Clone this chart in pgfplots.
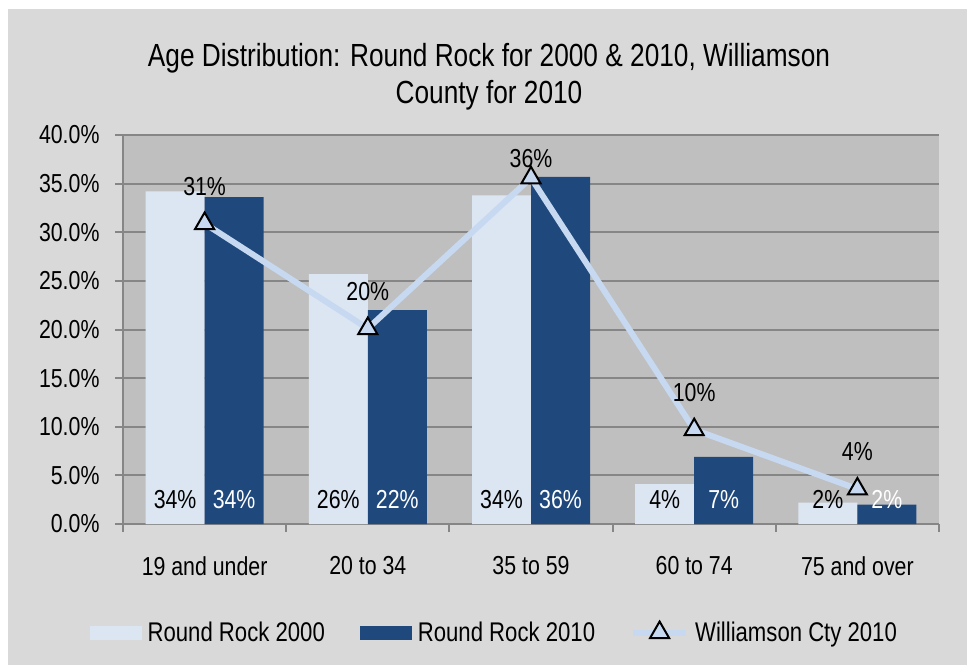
\documentclass[border=0pt]{standalone}
\usepackage{fontspec}
\setmainfont{Liberation Sans}[FakeStretch=0.82]
\usepackage{pgfplots}
\pgfplotsset{compat=1.18}

\definecolor{chartbg}{HTML}{D9D9D9}
\definecolor{plotbg}{HTML}{BFBFBF}
\definecolor{gridc}{HTML}{868686}
\definecolor{rr2000}{HTML}{DCE6F2}
\definecolor{rr2010}{HTML}{1F497D}
\definecolor{wcty}{HTML}{C6D9F1}

\pgfplotsset{
  lightbox/.style={legend image code/.code={\fill[rr2000] (0pt,-7pt) rectangle (52pt,7pt);}},
  darkbox/.style={legend image code/.code={\fill[rr2010] (0pt,-7pt) rectangle (52pt,7pt);}},
  wline/.style={legend image code/.code={
    \draw[wcty, line width=6pt] (0pt,0pt) -- (53pt,0pt);
    \draw[fill=wcty, draw=black, line width=2pt] plot[mark=triangle*, mark size=11pt] coordinates {(26.5pt,0pt)};}},
}

\begin{document}
\begin{tikzpicture}
\fill[white] (0,0) rectangle (967pt,-667pt);
\fill[chartbg] (8pt,-9pt) rectangle (967pt,-665pt);
\node[align=center, font=\fontsize{32}{37}\selectfont] at (489pt,-77pt)
  {Age Distribution: Round Rock for 2000 \& 2010, Williamson\\County for 2010};
\begin{axis}[
  at={(123pt,-524pt)}, anchor=south west,
  scale only axis, width=816pt, height=389pt,
  xmin=-0.5, xmax=4.5, ymin=0, ymax=40,
  axis background/.style={fill=plotbg},
  axis x line*=bottom, axis y line*=left,
  axis line style={-, draw=gridc, line width=2pt},
  ytick={0,5,...,40},
  ymajorgrids, grid style={draw=gridc, line width=2pt},
  tick align=outside,
  major tick length=8pt, minor tick length=8pt,
  tick style={draw=gridc, line width=2pt},
  yticklabel={\pgfmathprintnumber[fixed,fixed zerofill,precision=1,assume math mode=true]{\tick}\%},
  yticklabel style={font=\fontsize{26}{30}\selectfont, xshift=-12pt},
  xtick={0,...,4},
  xticklabels={19 and under, 20 to 34, 35 to 59, 60 to 74, 75 and over},
  major x tick style={draw=none},
  minor xtick={-0.5,0.5,...,4.5},
  xticklabel style={font=\fontsize{26}{30}\selectfont, yshift=-21pt},
  legend style={at={(0.455,-0.279)}, anchor=center, draw=none, fill=none,
    font=\fontsize{27}{31}\selectfont,
    /tikz/every even column/.append style={column sep=33pt},
    /tikz/every odd column/.append style={column sep=4pt}},
  legend columns=3,
  visualization depends on={rawy \as \rawy},
]
% Round Rock 2000
\addplot[ybar, bar width=59pt, bar shift=-29.5pt, fill=rr2000, draw=none, lightbox,
  nodes near coords={\pgfmathprintnumber[fixed,precision=0,assume math mode=true]{\pgfplotspointmeta}\%},
  every node near coord/.append style={anchor=base, text=black, xshift=-29.5pt,
    font=\fontsize{26}{30}\selectfont, yshift={16pt-9.725pt*\rawy}}]
  coordinates {(0,34.2) (1,25.7) (2,33.8) (3,4.1) (4,2.2)};
% Round Rock 2010
\addplot[ybar, bar width=59pt, bar shift=29.5pt, fill=rr2010, draw=none, darkbox,
  nodes near coords={\pgfmathprintnumber[fixed,precision=0,assume math mode=true]{\pgfplotspointmeta}\%},
  every node near coord/.append style={anchor=base, text=white, xshift=29.5pt,
    font=\fontsize{26}{30}\selectfont, yshift={16pt-9.725pt*\rawy}}]
  coordinates {(0,33.6) (1,22.0) (2,35.7) (3,6.9) (4,2.0)};
% Williamson County 2010
\addplot[sharp plot, draw=wcty, line width=6pt, mark=triangle*, mark size=11pt,
  mark options={fill=wcty, draw=black, line width=2pt}, wline,
  nodes near coords, point meta=explicit symbolic,
  every node near coord/.append style={anchor=base, text=black,
    font=\fontsize{26}{30}\selectfont, yshift=28pt}]
  coordinates {(0,30.9)[31\%] (1,20.1)[20\%] (2,35.6)[\raisebox{-18pt}{36\%}] (3,9.7)[10\%] (4,3.6)[4\%]};
\legend{Round Rock 2000, Round Rock 2010, Williamson Cty 2010}
\end{axis}
\pgfresetboundingbox
\path[use as bounding box] (0,0) rectangle (967pt,-667pt);
\end{tikzpicture}
\end{document}
